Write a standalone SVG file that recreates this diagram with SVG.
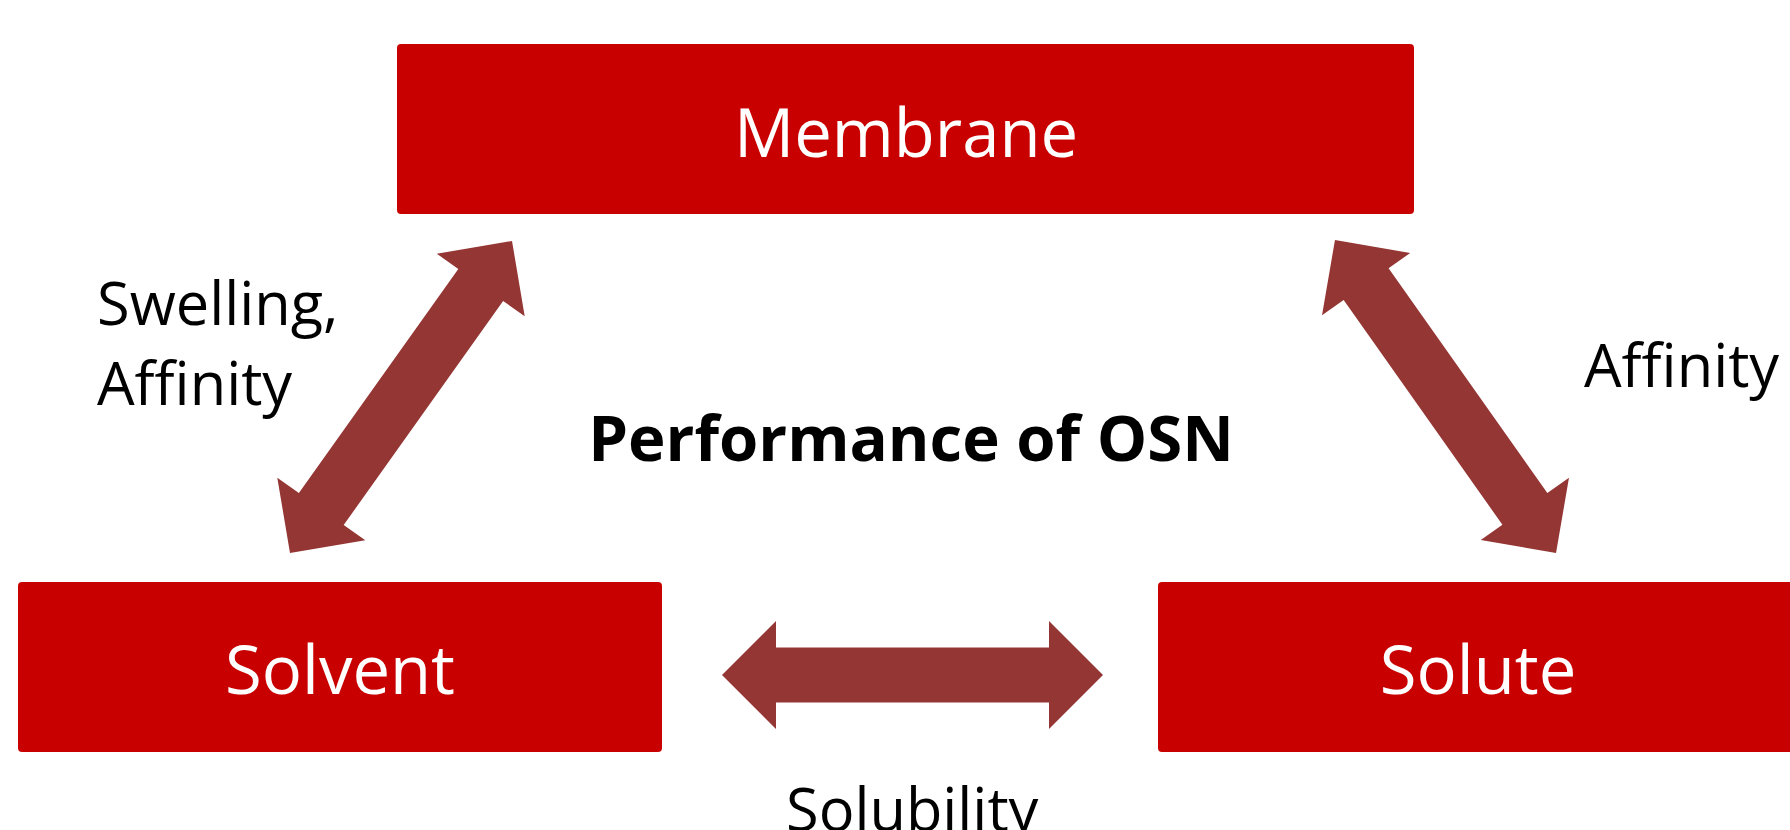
<svg xmlns="http://www.w3.org/2000/svg" width="1790" height="830" viewBox="0 0 1790 830">
  <style>
    .box { fill: #C80000; }
    .boxtxt { font-family: "Open Sans", "Liberation Sans", sans-serif; font-size: 67px; fill: #FFFFFF; text-anchor: middle; }
    .lbl { font-family: "Open Sans", "Liberation Sans", sans-serif; font-size: 59.5px; fill: #000000; }
    .title { font-family: "Open Sans", "Liberation Sans", sans-serif; font-size: 63.5px; font-weight: bold; fill: #000000; text-anchor: middle; }
    .arrow { fill: #943634; }
  </style>
  <rect width="1790" height="830" fill="#FFFFFF"/>

  <g id="connectors">
    <polygon id="arrow-solvent-solute" class="arrow" points="722,675 776,621 776,647.5 1049,647.5 1049,621 1103,675 1049,729 1049,702.5 776,702.5 776,729"/>
    <polygon id="arrow-membrane-solute" class="arrow" transform="translate(1445.5,396.5) rotate(54.77)" points="-191.6,0 -137.6,-54 -137.6,-27.5 137.6,-27.5 137.6,-54 191.6,0 137.6,54 137.6,27.5 -137.6,27.5 -137.6,54"/>
    <polygon id="arrow-membrane-solvent" class="arrow" transform="translate(401,397) rotate(125.43)" points="-191.5,0 -137.5,-54 -137.5,-27.5 137.5,-27.5 137.5,-54 191.5,0 137.5,54 137.5,27.5 -137.5,27.5 -137.5,54"/>
  </g>

  <g id="membrane">
    <rect class="box" x="397" y="44" width="1017" height="170" rx="4"/>
    <text class="boxtxt" x="906" y="157">Membrane</text>
  </g>
  <g id="solvent">
    <rect class="box" x="18" y="582" width="644" height="170" rx="4"/>
    <text class="boxtxt" x="340" y="694">Solvent</text>
  </g>
  <g id="solute">
    <rect class="box" x="1158" y="582" width="640" height="170" rx="4"/>
    <text class="boxtxt" x="1478" y="694">Solute</text>
  </g>

  <g id="labels">
    <text class="lbl" x="97" y="325">Swelling,</text>
    <text class="lbl" x="97" y="405">Affinity</text>
    <text class="lbl" x="1584" y="387">Affinity</text>
    <text class="lbl" x="786" y="831">Solubility</text>
    <text class="title" x="911" y="461">Performance of OSN</text>
  </g>
</svg>
